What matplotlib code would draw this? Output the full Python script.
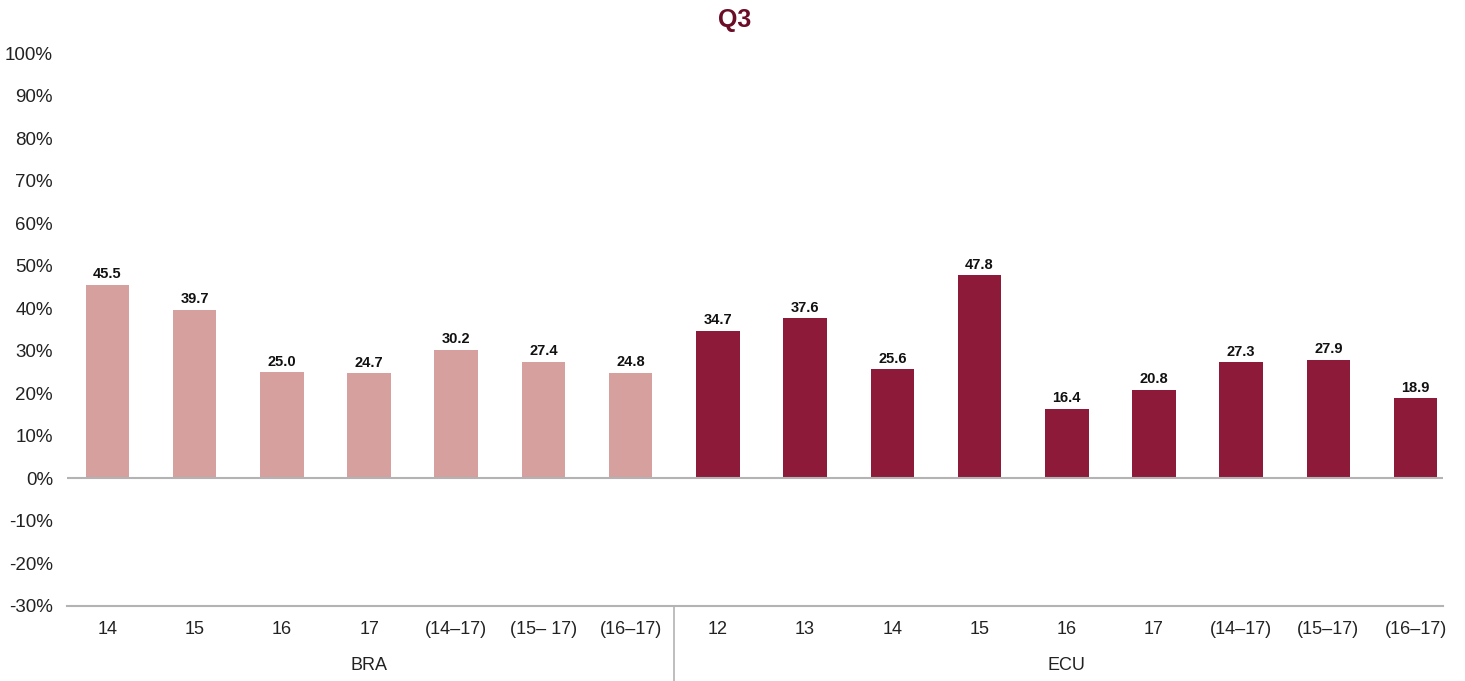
import matplotlib
matplotlib.use("Agg")
import matplotlib.pyplot as plt
import numpy as np

plt.rcParams['font.family'] = ['Liberation Sans', 'DejaVu Sans']

bra_labels = ["14", "15", "16", "17", "(14–17)", "(15– 17)", "(16–17)"]
bra_values = [45.5, 39.7, 25.0, 24.7, 30.2, 27.4, 24.8]
ecu_labels = ["12", "13", "14", "15", "16", "17", "(14–17)", "(15–17)", "(16–17)"]
ecu_values = [34.7, 37.6, 25.6, 47.8, 16.4, 20.8, 27.3, 27.9, 18.9]
groups = ["BRA", "ECU"]
yticks = [-30, -20, -10, 0, 10, 20, 30, 40, 50, 60, 70, 80, 90, 100]

c_bra = "#d6a09f"
c_ecu = "#8e1a3a"
c_title = "#6b0d26"
grey = "#b3b3b3"
txt = "#222222"

fig = plt.figure(figsize=(14.65, 6.81), dpi=100)
ax = fig.add_axes([67/1465, 75/681, (1443-67)/1465, (606-53)/681])

n_bra = len(bra_values)
n_ecu = len(ecu_values)
x_bra = np.arange(n_bra)
x_ecu = np.arange(n_ecu) + n_bra
w = 0.5
ax.bar(x_bra, bra_values, width=w, color=c_bra, zorder=2)
ax.bar(x_ecu, ecu_values, width=w, color=c_ecu, zorder=2)

for xs, vs in ((x_bra, bra_values), (x_ecu, ecu_values)):
    for x, v in zip(xs, vs):
        ax.annotate(f"{v:.1f}", (x, v), xytext=(0, 2.5), textcoords="offset points",
                    ha="center", va="bottom", fontsize=10.5, fontweight="bold",
                    color="#111111")

n = n_bra + n_ecu
ax.set_xlim(-0.464, n - 1 + 0.315)
ax.set_ylim(-30, 100)
ax.set_yticks(yticks)
ax.set_yticklabels([f"{t}%" for t in yticks], fontsize=13.5, color=txt)
ax.tick_params(axis="y", length=0, pad=10)
ax.set_xticks([])
ax.axhline(0, color=grey, lw=1.5, zorder=3)

for s in ("left", "right", "top"):
    ax.spines[s].set_visible(False)
ax.spines["bottom"].set_color(grey)
ax.spines["bottom"].set_linewidth(1.5)

trans = ax.get_xaxis_transform()
for x, lab in zip(x_bra, bra_labels):
    ax.text(x, -0.043, lab, transform=trans, ha="center", va="center", fontsize=13,
            color=txt)
for x, lab in zip(x_ecu, ecu_labels):
    ax.text(x, -0.043, lab, transform=trans, ha="center", va="center", fontsize=13,
            color=txt)
ax.text((n_bra - 1) / 2, -0.108, groups[0], transform=trans, ha="center", va="center",
        fontsize=13, color=txt)
ax.text(n_bra + (n_ecu - 1) / 2, -0.108, groups[1], transform=trans, ha="center", va="center",
        fontsize=13, color=txt)
ax.plot([n_bra - 0.5, n_bra - 0.5], [0, -0.14], transform=trans, color=grey, lw=1.2,
        clip_on=False)

fig.text(735/1465, 1 - 20/681, "Q3", ha="center", va="center", fontsize=18,
         fontweight="bold", color=c_title)

fig.savefig("out.png", dpi=100)
